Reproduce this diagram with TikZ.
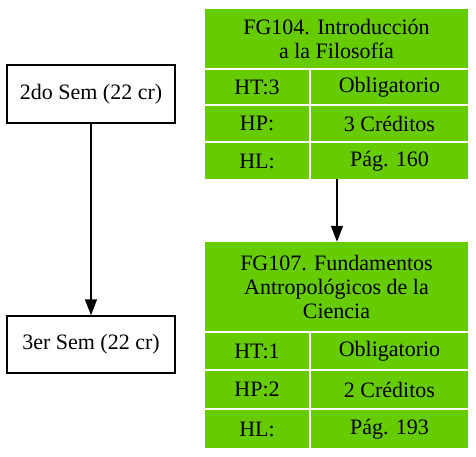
\documentclass[tikz,border=0pt]{standalone}
\usepackage{fontspec}
\setmainfont{Liberation Serif}
\usetikzlibrary{arrows.meta}
\definecolor{cellgreen}{HTML}{66CC00}
\tikzset{
  semnode/.style={draw=black, line width=1.5pt, fill=white, inner sep=0pt, font=\fontsize{22}{24}\selectfont},
  cell/.style={fill=cellgreen, draw=none, inner sep=0pt, align=center, font=\fontsize{22}{24}\selectfont},
  conn/.style={line width=1.5pt, -{Triangle[length=16pt,width=12pt]}}
}
\begin{document}
\begin{tikzpicture}[x=1pt,y=-1pt]
\useasboundingbox (0,0) rectangle (476,457);
% left semester boxes
\node[semnode, minimum width=168pt, minimum height=58pt] (s2) at (91,94) {2do Sem (22 cr)};
\node[semnode, minimum width=168pt, minimum height=57pt] (s3) at (91,344.5) {3er Sem (22 cr)};
% table 1
\node[cell, minimum width=263pt, minimum height=59pt] (t1h) at (336.5,38.5) {FG104. Introducción\\a la Filosofía};
\node[cell, minimum width=104pt, minimum height=34pt] (t1a) at (257,87) {HT:3};
\node[cell, minimum width=157pt, minimum height=34pt] (t1b) at (389.5,87) {Obligatorio};
\node[cell, minimum width=104pt, minimum height=35pt] (t1c) at (257,123.5) {HP:};
\node[cell, minimum width=157pt, minimum height=35pt] (t1d) at (389.5,123.5) {3 Créditos};
\node[cell, minimum width=104pt, minimum height=36pt] (t1e) at (257,161) {HL:};
\node[cell, minimum width=157pt, minimum height=36pt] (t1f) at (389.5,161) {Pág. 160};
% table 2
\node[cell, minimum width=263pt, minimum height=89pt] (t2h) at (336.5,286.5) {FG107. Fundamentos\\Antropológicos de la\\Ciencia};
\node[cell, minimum width=104pt, minimum height=36pt] (t2a) at (257,351) {HT:1};
\node[cell, minimum width=157pt, minimum height=36pt] (t2b) at (389.5,351) {Obligatorio};
\node[cell, minimum width=104pt, minimum height=37pt] (t2c) at (257,389.5) {HP:2};
\node[cell, minimum width=157pt, minimum height=37pt] (t2d) at (389.5,389.5) {2 Créditos};
\node[cell, minimum width=104pt, minimum height=38pt] (t2e) at (257,429) {HL:};
\node[cell, minimum width=157pt, minimum height=38pt] (t2f) at (389.5,429) {Pág. 193};
% connectors
\draw[conn] (s2.south) -- (s3.north);
\draw[conn] (t1f.south -| 337,0) -- (t2h.north -| 337,0);
\end{tikzpicture}
\end{document}
